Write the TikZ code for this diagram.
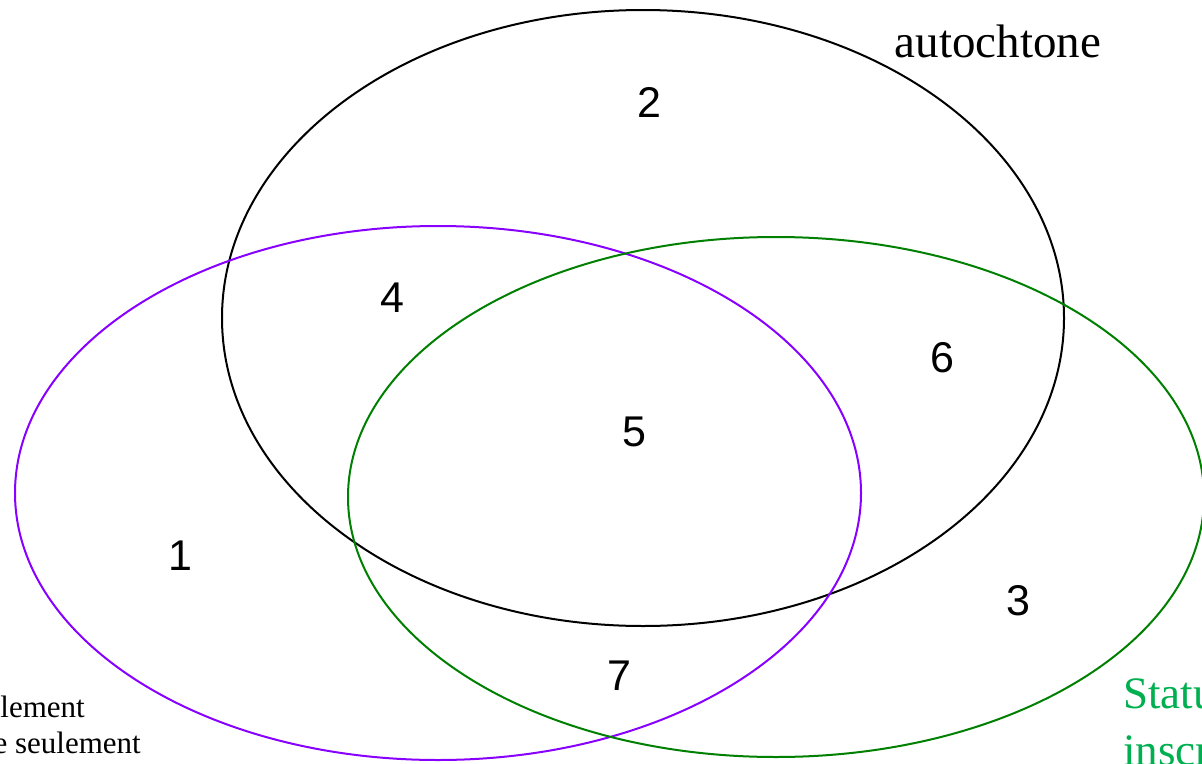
\documentclass[tikz,border=0pt]{standalone}
\usepackage{fontspec}
\setmainfont{Liberation Serif}
\newfontfamily\numfont{Liberation Sans}
\definecolor{vpurple}{RGB}{136,0,255}
\definecolor{vgreen}{RGB}{0,128,0}
\definecolor{tgreen}{RGB}{0,176,80}
\begin{document}
\begin{tikzpicture}[x=1pt,y=-1pt,
  ring/.style={line width=2pt},
  num/.style={font=\numfont\fontsize{43}{50}\selectfont, inner sep=0pt},
  lab/.style={font=\fontsize{47}{54}\selectfont, inner sep=0pt},
  glab/.style={font=\fontsize{45}{54}\selectfont, inner sep=0pt, text=tgreen},
  small/.style={font=\fontsize{31}{36}\selectfont, inner sep=0pt}]
\useasboundingbox (0,0) rectangle (1202,763);
\clip (0,0) rectangle (1202,763);
\fill[white] (0,0) rectangle (1202,763);
\draw[ring,black] (643,318) ellipse [x radius=421, y radius=308];
\draw[ring,vpurple] (438,493) ellipse [x radius=423, y radius=267];
\draw[ring,vgreen] (776,497) ellipse [x radius=428, y radius=260];
\node[num] (n2) at (649,102) {2};
\node[num] (n4) at (392,298) {4};
\node[num] (n6) at (942,358) {6};
\node[num] (n5) at (634,432) {5};
\node[num] (n1) at (180,556) {1};
\node[num] (n3) at (1018,601) {3};
\node[num] (n7) at (619,676) {7};
\node[lab,anchor=base] (aut) at (998,57) {autochtone};
\node[small,anchor=base east] (l1) at (85,717) {Ascendance seulement};
\node[small,anchor=base east] (l2) at (141,753) {Ascendance autochtone seulement};
\node[glab,anchor=base west] (g1) at (1123,708) {Statut d'Indien};
\node[glab,anchor=base west] (g2) at (1123,765) {inscrit};
\end{tikzpicture}
\end{document}
